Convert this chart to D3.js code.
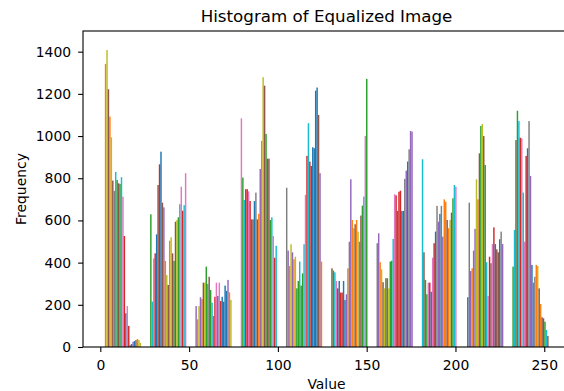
<!DOCTYPE html>
<html>
<head>
<meta charset="utf-8">
<script src="https://cdn.jsdelivr.net/npm/d3@7"></script>
<style>
  html, body { margin: 0; padding: 0; background: #fff; }
  svg { display: block; }
  text { font-family: "DejaVu Sans", sans-serif; fill: #000; }
</style>
</head>
<body>
<svg id="chart" width="564" height="391"></svg>
<script>
// ---- data ----
const binLefts = [0, 25.5, 51, 76.5, 102, 127.5, 153, 178.5, 204, 229.5];
const binWidth = 25.5;

const bin0Counts = [1342, 1408, 1222, 1092, 994, 789, 740, 830, 792, 776, 773, 805, 713, 526, 160, 194, 100, 10, 14, 25, 28, 33, 38, 33, 20];
const bin1Counts = [629, 215, 420, 444, 534, 768, 866, 926, 684, 662, 408, 341, 294, 504, 520, 444, 408, 594, 602, 615, 677, 760, 646, 672, 824];
const bin2Counts = [194, 131, 194, 236, 228, 305, 305, 381, 299, 333, 270, 210, 147, 238, 305, 242, 305, 218, 238, 215, 291, 266, 318, 259, 223];
const bin3Counts = [1084, 803, 697, 748, 748, 738, 692, 605, 605, 692, 732, 605, 631, 844, 977, 1279, 1239, 1010, 893, 893, 602, 615, 526, 423, 480];
const bin4Counts = [755, 457, 384, 487, 449, 416, 428, 278, 313, 405, 291, 349, 487, 721, 906, 1061, 879, 858, 947, 942, 1215, 1230, 1100, 824, 405];
const bin5Counts = [373, 362, 354, 313, 278, 313, 258, 258, 313, 223, 250, 373, 499, 795, 602, 563, 582, 602, 547, 499, 623, 670, 713, 1000, 1271];
const bin6Counts = [492, 539, 402, 368, 307, 278, 326, 326, 278, 405, 409, 512, 724, 719, 645, 736, 741, 645, 645, 797, 836, 879, 937, 1024, 1021];
const bin7Counts = [890, 449, 318, 250, 305, 305, 262, 423, 492, 547, 669, 594, 631, 669, 523, 700, 689, 602, 563, 602, 637, 705, 768, 760, 0];
const bin8Counts = [236, 684, 360, 373, 457, 560, 795, 700, 918, 1048, 1057, 1000, 863, 402, 242, 428, 397, 488, 567, 488, 463, 449, 511, 547, 488];
const bin9Counts = [381, 555, 981, 1120, 1071, 992, 989, 732, 499, 906, 942, 1071, 811, 389, 305, 333, 389, 384, 278, 204, 141, 136, 120, 81, 52];

const xTicks = [0, 50, 100, 150, 200, 250];
const yTicks = [0, 200, 400, 600, 800, 1000, 1200, 1400];

// ---- styles ----
const palette = {
  b: "#1f77b4", o: "#ff7f0e", g: "#2ca02c", r: "#d62728", p: "#9467bd",
  n: "#8c564b", k: "#e377c2", y: "#7f7f7f", l: "#bcbd22", c: "#17becf"
};
const bin0Colors = "olnolnycgngckrbkrybpbnoll";
const bin1Colors = "gckrbnrbnpolnolngnlgckrck";
const bin2Colors = "polponlgcngcprkbkrbbbbpol";
const bin3Colors = "kgcrrkrnnbynopolngnngckrc";
const bin4Colors = "ypolpolggcggckrcrrbbbbnpo";
const bin5Colors = "ngckrbrrbbpoypolnolyngckg";
const bin6Colors = "ypolnlnglggckrnrrbbypbypp";
const bin7Colors = "cnggkrbkrbypbypoonolngckk";
const bin8Colors = "bypoyplonglngckrnkrbnnbyp";
const bin9Colors = "gcngcrkckrbypbpyolnonngcn";

const allCounts = [bin0Counts, bin1Counts, bin2Counts, bin3Counts, bin4Counts,
                   bin5Counts, bin6Counts, bin7Counts, bin8Counts, bin9Counts];
const allColors = [bin0Colors, bin1Colors, bin2Colors, bin3Colors, bin4Colors,
                   bin5Colors, bin6Colors, bin7Colors, bin8Colors, bin9Colors];

// ---- layout ----
const mLeft = 83, mRight = 570, mTop = 31, mBottom = 347;
const svg = d3.select("#chart");

const x = d3.scaleLinear().domain([-9.75, 264.5]).range([mLeft, mRight]);
const y = d3.scaleLinear().domain([0, 1498]).range([mBottom, mTop]);

// bars
const bars = [];
allCounts.forEach((arr, i) => {
  const n = arr.length;
  arr.forEach((v, j) => {
    bars.push({
      x0: binLefts[i] + binWidth * (0.1 + 0.8 * j / n),
      x1: binLefts[i] + binWidth * (0.1 + 0.8 * (j + 1) / n),
      v: v,
      color: palette[allColors[i][j]] || palette.b
    });
  });
});

svg.append("g").selectAll("rect").data(bars).join("rect")
  .attr("x", d => x(d.x0))
  .attr("width", d => x(d.x1) - x(d.x0))
  .attr("y", d => y(d.v))
  .attr("height", d => y(0) - y(d.v))
  .attr("fill", d => d.color);

// axes
const fs = "13.9px";
const xAxis = svg.append("g").attr("transform", `translate(0,${mBottom})`)
  .call(d3.axisBottom(x).tickValues(xTicks).tickFormat(d3.format("d"))
    .tickSize(4.9).tickSizeOuter(0).tickPadding(8));
const yAxis = svg.append("g").attr("transform", `translate(${mLeft},0)`)
  .call(d3.axisLeft(y).tickValues(yTicks).tickFormat(d3.format("d"))
    .tickSize(4.9).tickSizeOuter(0).tickPadding(7));
[xAxis, yAxis].forEach(a => {
  a.select(".domain").remove();
  a.selectAll("text").attr("font-family", "DejaVu Sans").attr("font-size", fs).attr("fill", "#000");
  a.selectAll("line").attr("stroke", "#000").attr("stroke-width", 1.1);
});

// frame
svg.append("rect")
  .attr("x", mLeft).attr("y", mTop)
  .attr("width", mRight - mLeft).attr("height", mBottom - mTop)
  .attr("fill", "none").attr("stroke", "#000").attr("stroke-width", 1.1);

// labels
svg.append("text").attr("x", (mLeft + mRight) / 2).attr("y", 22)
  .attr("text-anchor", "middle").attr("font-size", "16.7px")
  .text("Histogram of Equalized Image");
svg.append("text").attr("x", (mLeft + mRight) / 2).attr("y", 389)
  .attr("text-anchor", "middle").attr("font-size", fs)
  .text("Value");
svg.append("text").attr("transform", `translate(26,${(mTop + mBottom) / 2}) rotate(-90)`)
  .attr("text-anchor", "middle").attr("font-size", fs)
  .text("Frequency");
</script>
</body>
</html>
